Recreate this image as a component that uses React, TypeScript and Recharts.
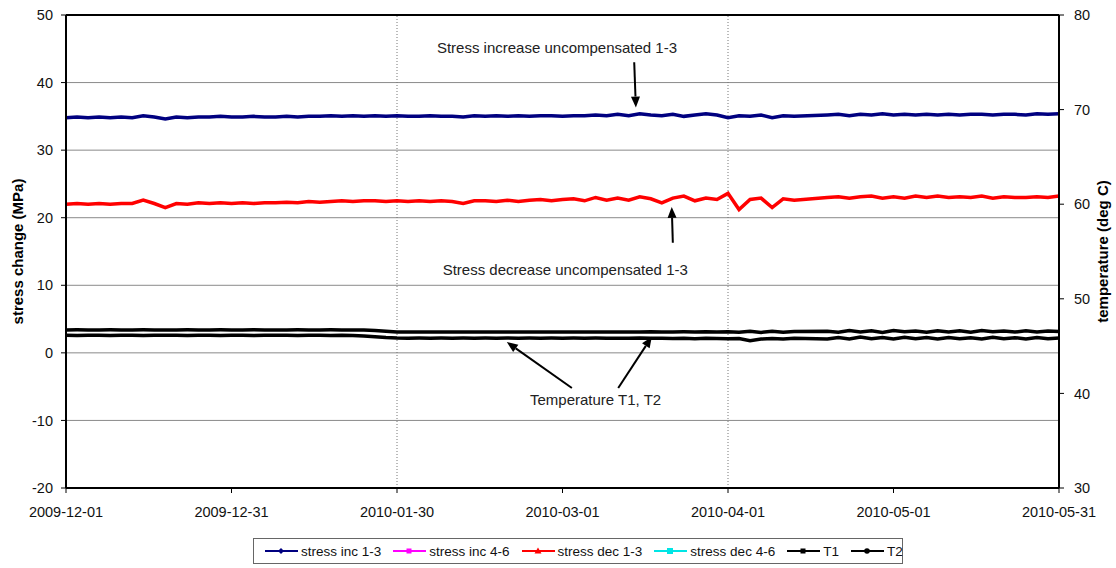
import React from 'react';
import {
  LineChart,
  Line,
  XAxis,
  YAxis,
  CartesianGrid,
  Legend,
  ReferenceLine,
  ReferenceDot,
} from 'recharts';

// days since 2009-12-01, one reading every second day
const days = [
  0, 2, 4, 6, 8, 10, 12, 14, 16, 18,
  20, 22, 24, 26, 28, 30, 32, 34, 36, 38,
  40, 42, 44, 46, 48, 50, 52, 54, 56, 58,
  60, 62, 64, 66, 68, 70, 72, 74, 76, 78,
  80, 82, 84, 86, 88, 90, 92, 94, 96, 98,
  100, 102, 104, 106, 108, 110, 112, 114, 116, 118,
  120, 122, 124, 126, 128, 130, 132, 134, 136, 138,
  140, 142, 144, 146, 148, 150, 152, 154, 156, 158,
  160, 162, 164, 166, 168, 170, 172, 174, 176, 178,
  180,
];

// stress change (MPa), left axis
const stressInc13 = [
  34.8, 34.9, 34.8, 34.9, 34.8, 34.9, 34.8, 35.1, 34.9, 34.6,
  34.9, 34.8, 34.9, 34.9, 35.0, 34.9, 34.9, 35.0, 34.9, 34.9,
  35.0, 34.9, 35.0, 35.0, 35.1, 35.0, 35.1, 35.0, 35.1, 35.0,
  35.1, 35.0, 35.0, 35.1, 35.0, 35.0, 34.9, 35.1, 35.0, 35.1,
  35.0, 35.1, 35.0, 35.1, 35.1, 35.0, 35.1, 35.1, 35.2, 35.1,
  35.3, 35.1, 35.4, 35.2, 35.1, 35.3, 35.0, 35.2, 35.4, 35.2,
  34.8, 35.1, 35.0, 35.2, 34.8, 35.1, 35.0, null, null, 35.2,
  35.3, 35.1, 35.3, 35.2, 35.4, 35.2, 35.3, 35.2, 35.3, 35.2,
  35.3, 35.2, 35.3, 35.3, 35.2, 35.3, 35.3, 35.2, 35.4, 35.3,
  35.4,
];

const stressDec13 = [
  22.0, 22.1, 22.0, 22.1, 22.0, 22.1, 22.1, 22.6, 22.1, 21.5,
  22.1, 22.0, 22.2, 22.1, 22.2, 22.1, 22.2, 22.1, 22.2, 22.2,
  22.3, 22.2, 22.4, 22.3, 22.4, 22.5, 22.4, 22.5, 22.5, 22.4,
  22.5, 22.4, 22.5, 22.4, 22.5, 22.4, 22.1, 22.5, 22.5, 22.4,
  22.6, 22.4, 22.6, 22.7, 22.5, 22.7, 22.8, 22.5, 23.0, 22.6,
  22.9, 22.6, 23.1, 22.8, 22.2, 22.9, 23.2, 22.5, 22.9, 22.7,
  23.6, 21.2, 22.7, 22.9, 21.5, 22.8, 22.6, null, null, 23.0,
  23.1, 22.9, 23.1, 23.2, 22.9, 23.1, 22.9, 23.2, 23.0, 23.2,
  23.0, 23.1, 23.0, 23.2, 22.9, 23.1, 23.0, 23.0, 23.1, 23.0,
  23.2,
];

// temperature (deg C), right axis
const tempT1 = [
  46.71, 46.72, 46.71, 46.71, 46.72, 46.71, 46.71, 46.72, 46.71, 46.71,
  46.71, 46.72, 46.71, 46.71, 46.72, 46.71, 46.71, 46.72, 46.71, 46.71,
  46.71, 46.72, 46.71, 46.71, 46.72, 46.71, 46.71, 46.70, 46.66, 46.58,
  46.50, 46.48, 46.49, 46.48, 46.48, 46.49, 46.48, 46.48, 46.49, 46.48,
  46.49, 46.48, 46.49, 46.48, 46.49, 46.50, 46.48, 46.49, 46.50, 46.49,
  46.50, 46.49, 46.50, 46.51, 46.49, 46.50, 46.51, 46.50, 46.52, 46.50,
  46.51, 46.47, 46.56, 46.45, 46.58, 46.47, 46.54, null, null, 46.58,
  46.46, 46.64, 46.50, 46.62, 46.45, 46.65, 46.52, 46.60, 46.47, 46.63,
  46.50, 46.62, 46.46, 46.64, 46.52, 46.60, 46.48, 46.63, 46.50, 46.60,
  46.55,
];

const tempT2 = [
  46.14, 46.13, 46.14, 46.14, 46.13, 46.14, 46.14, 46.13, 46.14, 46.14,
  46.14, 46.13, 46.14, 46.14, 46.13, 46.14, 46.14, 46.13, 46.14, 46.14,
  46.14, 46.13, 46.14, 46.14, 46.13, 46.14, 46.12, 46.06, 45.98, 45.90,
  45.85, 45.84, 45.85, 45.84, 45.85, 45.84, 45.85, 45.84, 45.85, 45.84,
  45.85, 45.84, 45.85, 45.84, 45.85, 45.84, 45.85, 45.84, 45.85, 45.84,
  45.84, 45.83, 45.85, 45.82, 45.84, 45.80, 45.83, 45.79, 45.82, 45.80,
  45.78, 45.80, 45.58, 45.74, 45.80, 45.76, 45.82, null, null, 45.74,
  45.92, 45.76, 45.95, 45.78, 45.90, 45.74, 45.93, 45.77, 45.90, 45.75,
  45.92, 45.78, 45.88, 45.75, 45.93, 45.78, 45.89, 45.76, 45.92, 45.77,
  45.85,
];

const tickDays = [0, 30, 60, 90, 120, 150, 180];
const tickLabels = ['2009-12-01', '2009-12-31', '2010-01-30', '2010-03-01', '2010-04-01', '2010-05-01', '2010-05-31'];
const stressTicks = [-20, -10, 0, 10, 20, 30, 40, 50];
const tempTicks = [30, 40, 50, 60, 70, 80];

const legendItems = [
  { name: 'stress inc 1-3', color: '#000080', marker: 'diamond' },
  { name: 'stress inc 4-6', color: '#ff00ff', marker: 'square' },
  { name: 'stress dec 1-3', color: '#ff0000', marker: 'triangle' },
  { name: 'stress dec 4-6', color: '#00e5e5', marker: 'cross' },
  { name: 'T1', color: '#000000', marker: 'square' },
  { name: 'T2', color: '#000000', marker: 'circle' },
];

// annotation text, placed in data coordinates (day, MPa)
const notes = [
  { text: 'Stress increase uncompensated 1-3', day: 89.0, value: 45.1 },
  { text: 'Stress decrease uncompensated 1-3', day: 90.5, value: 12.3 },
  { text: 'Temperature T1, T2', day: 96.0, value: -7.0 },
];

const arrows = [
  { from: { x: 103.0, y: 43.0 }, to: { x: 103.3, y: 36.3 } },
  { from: { x: 110.0, y: 16.3 }, to: { x: 109.8, y: 21.6 } },
  { from: { x: 91.7, y: -5.2 }, to: { x: 79.9, y: 1.6 } },
  { from: { x: 100.1, y: -5.2 }, to: { x: 106.2, y: 2.4 } },
];

const data = days.map((day, i) => ({
  day,
  inc13: stressInc13[i],
  dec13: stressDec13[i],
  t1: tempT1[i],
  t2: tempT2[i],
}));

const FONT = '"Liberation Sans", Arial, sans-serif';

const Arrow = (props: any) => {
  const { x1, y1, x2, y2 } = props;
  const dx = x2 - x1;
  const dy = y2 - y1;
  const len = Math.sqrt(dx * dx + dy * dy) || 1;
  const ux = dx / len;
  const uy = dy / len;
  const headLen = 11;
  const headW = 4.5;
  const bx = x2 - ux * headLen;
  const by = y2 - uy * headLen;
  const pts = `${x2},${y2} ${bx - uy * headW},${by + ux * headW} ${bx + uy * headW},${by - ux * headW}`;
  return (
    <g>
      <line x1={x1} y1={y1} x2={bx} y2={by} stroke="#000" strokeWidth={2} />
      <polygon points={pts} fill="#000" />
    </g>
  );
};

const Marker = ({ kind, color }: { kind: string; color: string }) => {
  let m: React.ReactNode = null;
  if (kind === 'diamond') m = <polygon points="16,2 19,5 16,8 13,5" fill={color} />;
  if (kind === 'square') m = <rect x={13.5} y={2.5} width={5} height={5} fill={color} />;
  if (kind === 'triangle') m = <polygon points="16,1.5 19.5,7.5 12.5,7.5" fill={color} />;
  if (kind === 'cross') m = <rect x={13} y={2} width={6} height={6} fill={color} />;
  if (kind === 'circle') m = <circle cx={16} cy={5} r={2.8} fill={color} />;
  return (
    <svg width={33} height={10} style={{ display: 'block' }}>
      <line x1={0} y1={5} x2={33} y2={5} stroke={color} strokeWidth={2} />
      {m}
    </svg>
  );
};

const LegendBox = () => (
  <div style={{ height: 44, paddingTop: 20, boxSizing: 'border-box' }}>
    <div
      style={{
        marginLeft: 253,
        width: 650,
        height: 26,
        border: '1px solid #666',
        boxSizing: 'border-box',
        display: 'flex',
        alignItems: 'center',
        paddingLeft: 11,
        fontFamily: FONT,
        fontSize: 13.5,
        color: '#111',
        background: '#fff',
      }}
    >
      {legendItems.map((item) => (
        <div key={item.name} style={{ display: 'flex', alignItems: 'center', marginRight: 12 }}>
          <Marker kind={item.marker} color={item.color} />
          <span style={{ marginLeft: 3, whiteSpace: 'nowrap' }}>{item.name}</span>
        </div>
      ))}
    </div>
  </div>
);

const App: React.FC = () => {
  return (
    <div style={{ position: 'absolute', left: 0, top: 0, width: 1116, height: 568, background: '#fff', fontFamily: FONT }}>
      <LineChart width={1116} height={568} data={data} margin={{ top: 15, right: 0, bottom: 6, left: 0 }}>
        <CartesianGrid yAxisId="left" vertical={false} stroke="#8a8a8a" />
        <XAxis
          dataKey="day"
          type="number"
          domain={[0, 180]}
          ticks={tickDays}
          tickFormatter={(v: number) => tickLabels[tickDays.indexOf(v)]}
          height={30}
          axisLine={{ stroke: '#000', strokeWidth: 2 }}
          tickLine={{ stroke: '#000' }}
          tickSize={5}
          tickMargin={14}
          tick={{ fill: '#111', fontSize: 14.5 }}
          interval={0}
        />
        <YAxis
          yAxisId="left"
          domain={[-20, 50]}
          ticks={stressTicks}
          width={66}
          axisLine={{ stroke: '#000', strokeWidth: 2 }}
          tickLine={{ stroke: '#000' }}
          tickSize={5}
          tickMargin={8}
          tick={{ fill: '#111', fontSize: 14.5 }}
          interval={0}
          label={{ value: 'stress change (MPa)', angle: -90, position: 'center', dx: -15, fontSize: 15, fontWeight: 'bold', fill: '#000' }}
        />
        <YAxis
          yAxisId="right"
          orientation="right"
          domain={[30, 80]}
          ticks={tempTicks}
          width={57}
          axisLine={{ stroke: '#000', strokeWidth: 2 }}
          tickLine={{ stroke: '#000' }}
          tickSize={5}
          tickMargin={10}
          tick={{ fill: '#111', fontSize: 14.5 }}
          interval={0}
          label={{ value: 'temperature (deg C)', angle: -90, position: 'center', dx: 15, fontSize: 15, fontWeight: 'bold', fill: '#000' }}
        />
        <ReferenceLine yAxisId="left" y={50} stroke="#000" strokeWidth={2} />
        <ReferenceLine yAxisId="left" x={60} stroke="#777" strokeDasharray="1 2" />
        <ReferenceLine yAxisId="left" x={120} stroke="#777" strokeDasharray="1 2" />
        <Legend verticalAlign="bottom" align="left" content={() => <LegendBox />} />
        <Line yAxisId="left" dataKey="inc13" name="stress inc 1-3" stroke="#000080" strokeWidth={3.5} dot={false} connectNulls isAnimationActive={false} />
        <Line yAxisId="left" dataKey="dec13" name="stress dec 1-3" stroke="#ff0000" strokeWidth={3.5} dot={false} connectNulls isAnimationActive={false} />
        <Line yAxisId="right" dataKey="t1" name="T1" stroke="#000" strokeWidth={3.5} dot={false} connectNulls isAnimationActive={false} />
        <Line yAxisId="right" dataKey="t2" name="T2" stroke="#000" strokeWidth={3.5} dot={false} connectNulls isAnimationActive={false} />
        {arrows.map((a, i) => (
          <ReferenceLine key={`arrow-${i}`} yAxisId="left" segment={[a.from, a.to]} shape={Arrow} />
        ))}
        {notes.map((n) => (
          <ReferenceDot
            key={n.text}
            yAxisId="left"
            x={n.day}
            y={n.value}
            r={0}
            fill="none"
            stroke="none"
            label={{ value: n.text, position: 'center', fontSize: 15, fill: '#222' }}
          />
        ))}
      </LineChart>
    </div>
  );
};

export default App;
